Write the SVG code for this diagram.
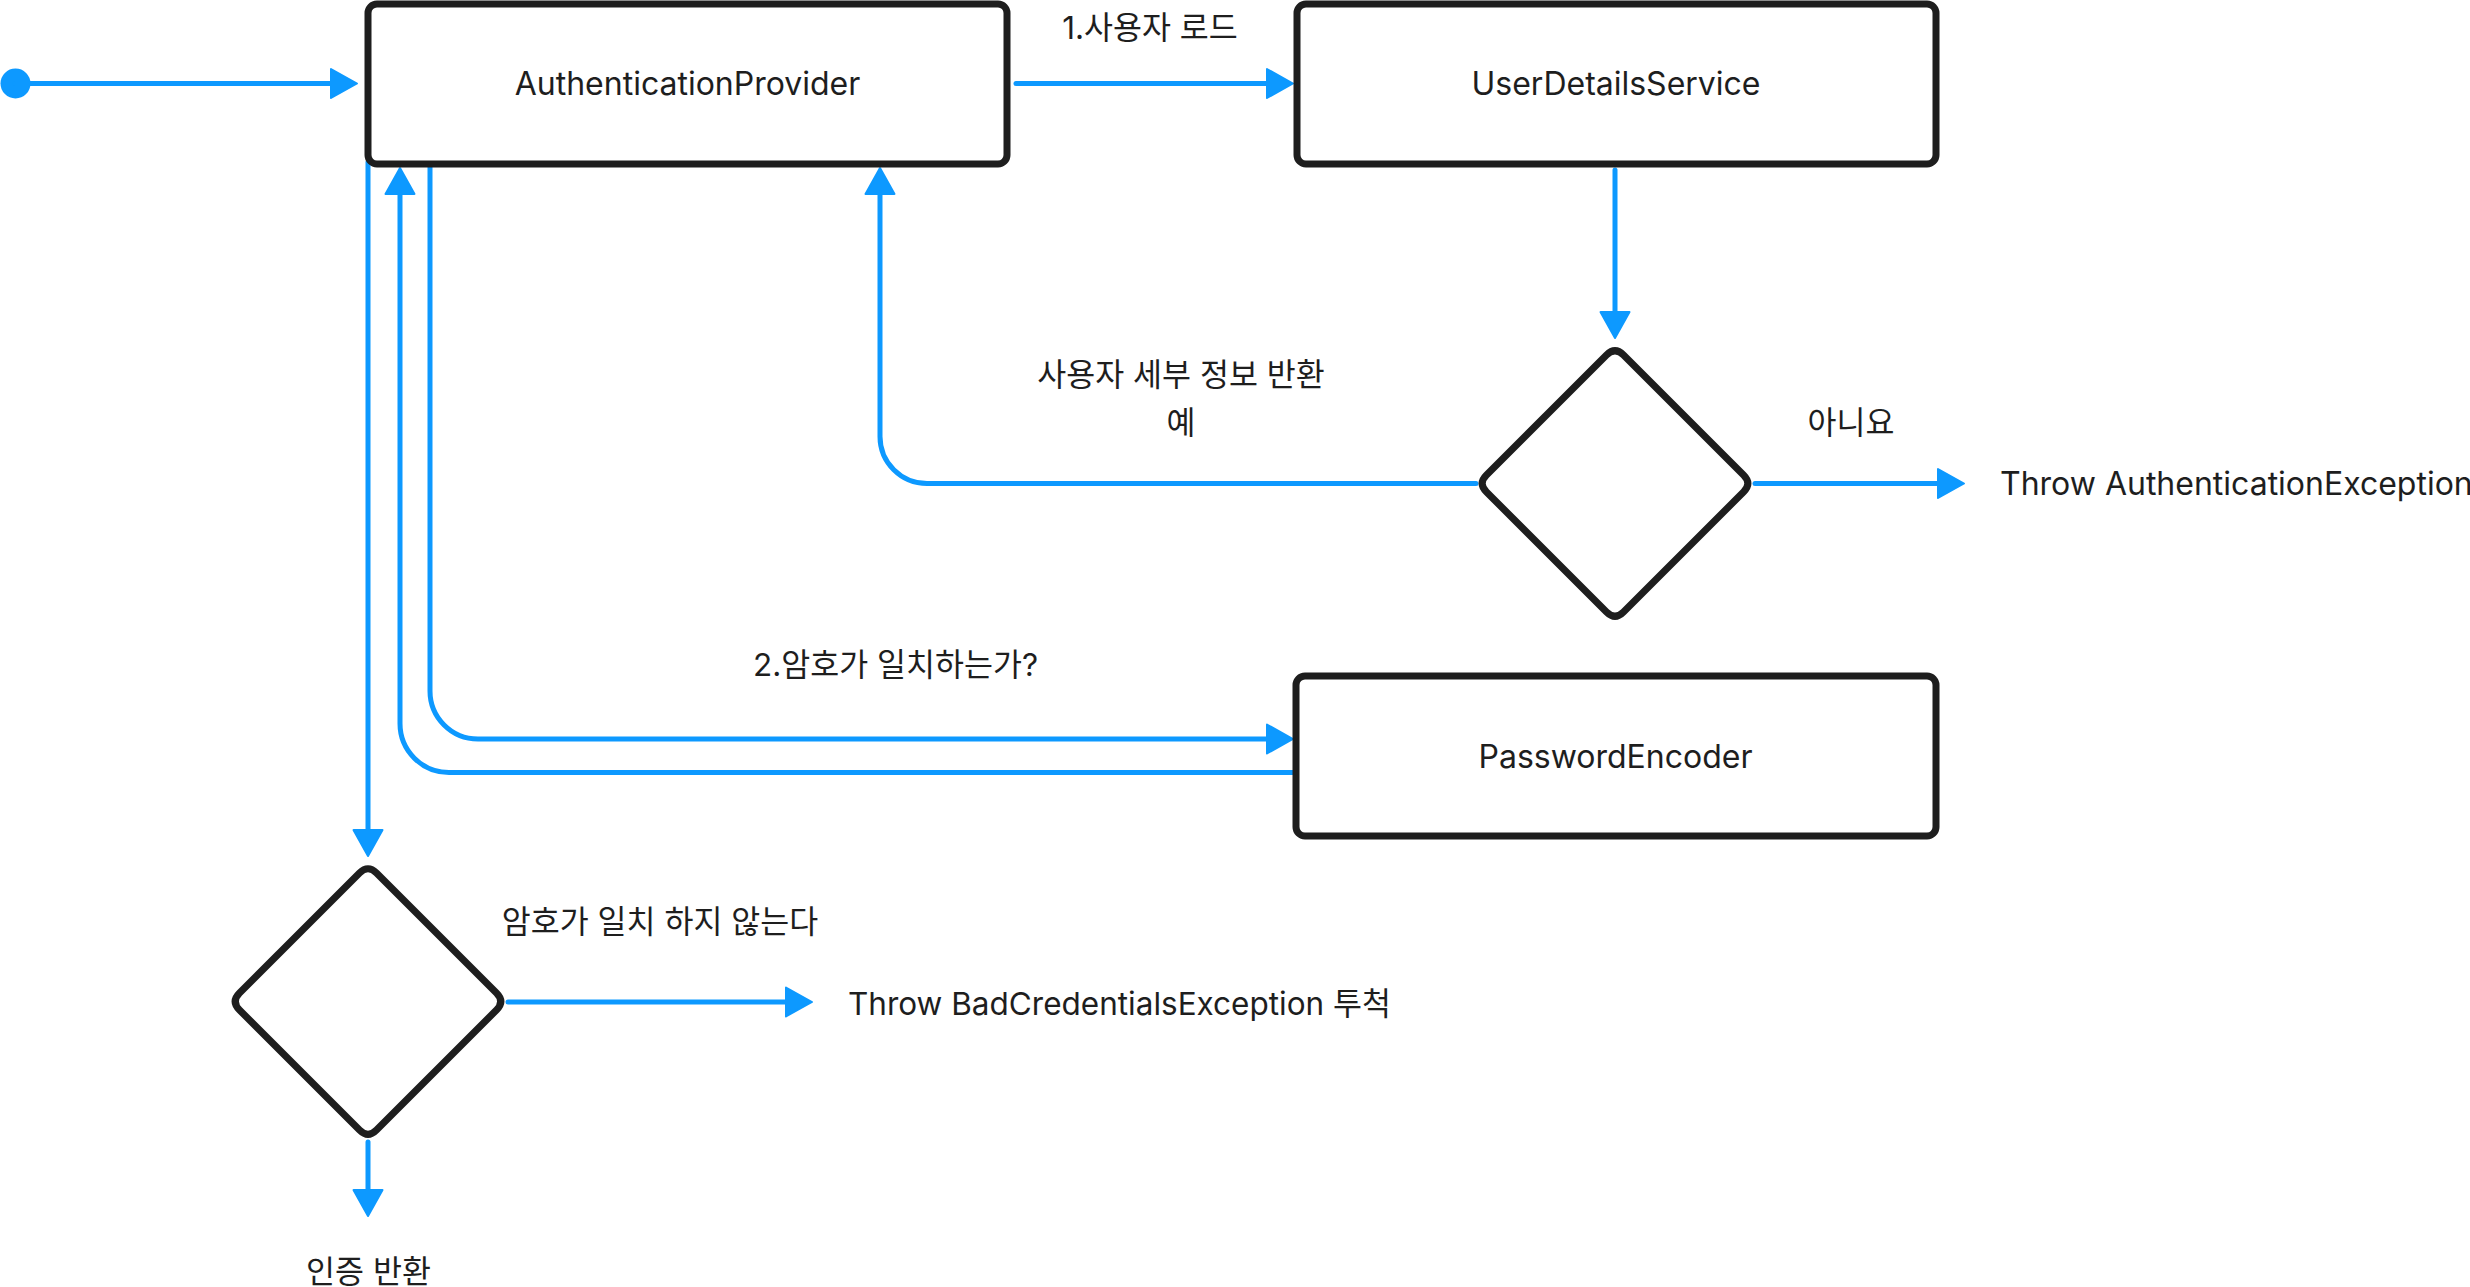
<svg xmlns="http://www.w3.org/2000/svg" width="2470" height="1287" viewBox="0 0 2470 1287">
  <style>
    .box { fill: #ffffff; stroke: #1e1e1e; stroke-width: 7; }
    .dia { fill: #ffffff; stroke: #1e1e1e; stroke-width: 7; stroke-linejoin: round; }
    .conn { fill: none; stroke: #0d99ff; stroke-width: 5; stroke-linecap: round; marker-end: url(#ah); }
    text { font-family: Inter, "Noto Sans CJK KR", "Noto Sans", sans-serif; font-size: 32px; fill: #1e1e1e; }
    .k { font-size: 31.5px; }
    .c { text-anchor: middle; }
  </style>
  <defs>
    <marker id="ah" markerUnits="userSpaceOnUse" markerWidth="40" markerHeight="40" viewBox="-5 -20 40 40" refX="0" refY="0" orient="auto" overflow="visible">
      <path d="M-3,-14.5 L23,0 L-3,14.5 Z" fill="#0d99ff" stroke="#0d99ff" stroke-width="2" stroke-linejoin="round"/>
    </marker>
  </defs>
  <rect width="2470" height="1287" fill="#ffffff"/>

  <g id="connectors">
    <circle cx="15.5" cy="83.5" r="15" fill="#0d99ff"/>
    <path class="conn" d="M15,83.5 H334"/>
    <path class="conn" d="M1016,83.5 H1270"/>
    <path class="conn" d="M1615,170 V315"/>
    <path class="conn" d="M1755,483.5 H1941"/>
    <path class="conn" d="M1476,483.5 H927 A47,47 0 0 1 880,436.5 V191"/>
    <path class="conn" d="M430,162 V691 A48,48 0 0 0 478,739 H1270"/>
    <path class="conn" d="M1296,772.5 H449 A49,49 0 0 1 400,723.5 V191"/>
    <path class="conn" d="M368,162 V833"/>
    <path class="conn" d="M508,1002 H789"/>
    <path class="conn" d="M368,1142 V1193"/>
  </g>

  <g id="node-authentication-provider">
    <rect class="box" x="368" y="4" width="639" height="160" rx="9"/>
    <text class="c" x="687.5" y="95">AuthenticationProvider</text>
  </g>
  <g id="node-user-details-service">
    <rect class="box" x="1297" y="4" width="639" height="160" rx="9"/>
    <text class="c" x="1616" y="95">UserDetailsService</text>
  </g>
  <g id="node-password-encoder">
    <rect class="box" x="1296" y="676" width="640" height="160" rx="9"/>
    <text class="c" x="1615.5" y="768">PasswordEncoder</text>
  </g>
  <g id="node-decision-user">
    <path class="dia" d="M1606.5,355 Q1615,346.5 1623.5,355 L1743.5,475 Q1752,483.5 1743.5,492 L1623.5,612 Q1615,620.5 1606.5,612 L1486.5,492 Q1478,483.5 1486.5,475 Z"/>
  </g>
  <g id="node-decision-password">
    <path class="dia" d="M359.5,873 Q368,864.5 376.5,873 L496.5,993 Q505,1001.5 496.5,1010 L376.5,1130 Q368,1138.5 359.5,1130 L239.5,1010 Q231,1001.5 239.5,993 Z"/>
  </g>

  <g id="labels">
    <text class="c k" x="1150" y="39">1.사용자 로드</text>
    <text class="c k" x="1181" y="386">사용자 세부 정보 반환</text>
    <text class="c k" x="1181" y="434">예</text>
    <text class="c k" x="1851" y="434">아니요</text>
    <text x="2000" y="495">Throw AuthenticationException</text>
    <text class="k" x="753" y="676">2.암호가 일치하는가?</text>
    <text class="c k" x="660" y="933">암호가 일치 하지 않는다</text>
    <text class="k" x="848" y="1015">Throw BadCredentialsException 투척</text>
    <text class="c k" x="368.5" y="1283">인증 반환</text>
  </g>
</svg>
